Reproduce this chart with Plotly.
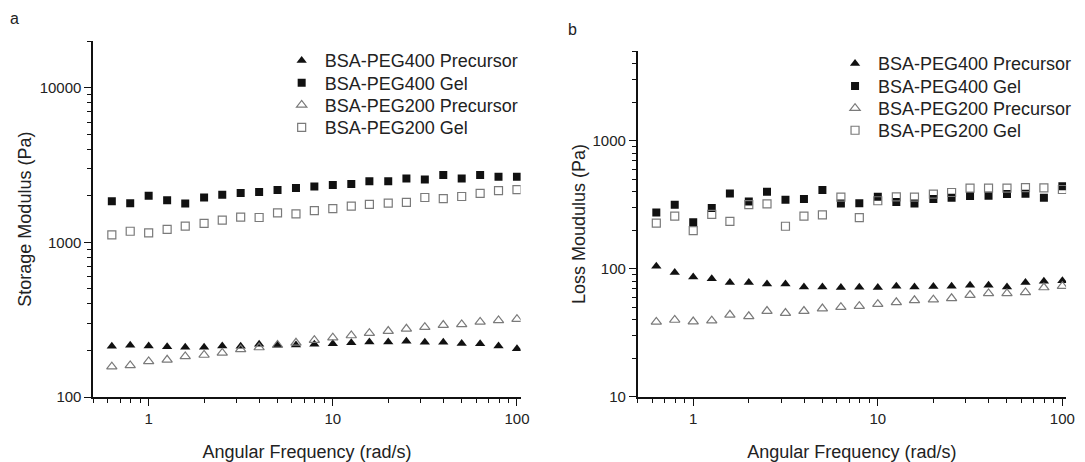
import numpy as np
import plotly.graph_objects as go

# Angular frequency sweep (rad/s), 5 points per decade
freq = [0.631, 0.794, 1.0, 1.26, 1.58, 2.0, 2.51, 3.16, 3.98, 5.01, 6.31, 7.94,
        10.0, 12.6, 15.8, 20.0, 25.1, 31.6, 39.8, 50.1, 63.1, 79.4, 100.0]

# Storage modulus G' (Pa)
g1_peg400_pre = [213, 216, 214, 211, 210, 210, 214, 213, 219, 216, 217, 219,
                 221, 224, 227, 227, 229, 226, 226, 222, 221, 214, 205]
g1_peg400_gel = [1848, 1795, 2000, 1875, 1787, 1950, 2037, 2090, 2120, 2183, 2250, 2303,
                 2350, 2383, 2489, 2490, 2588, 2551, 2731, 2588, 2731, 2654, 2654]
g1_peg200_pre = [157, 160, 170, 174, 183, 187, 193, 203, 209, 217, 224, 233,
                 242, 250, 259, 267, 276, 283, 292, 295, 306, 313, 319]
g1_peg200_gel = [1119, 1181, 1152, 1215, 1276, 1327, 1393, 1456, 1449, 1551, 1529, 1605,
                 1653, 1719, 1762, 1796, 1813, 1952, 1922, 1981, 2078, 2161, 2193]

# Loss modulus G'' (Pa)
g2_peg400_pre = [104.8, 93.7, 86.3, 83.8, 78.1, 78.1, 76.3, 76.3, 72.3, 72.3, 71.5, 71.9,
                 71.5, 73.2, 72.3, 72.8, 73.2, 74.5, 74.5, 72.3, 78.1, 80.0, 80.9]
g2_peg400_gel = [275, 317, 231, 299, 388, 336, 399, 346, 351, 413, 323, 325,
                 365, 332, 323, 351, 359, 370, 372, 383, 385, 359, 441]
g2_peg200_pre = [38.5, 39.9, 38.8, 39.4, 43.8, 42.6, 46.8, 45.2, 46.8, 49.0, 50.2, 51.1,
                 53.0, 54.8, 56.8, 57.5, 58.9, 62.4, 64.3, 64.3, 65.5, 71.5, 73.2]
g2_peg200_gel = [227, 258, 199, 266, 235, 317, 321, 215, 258, 264, 363, 251,
                 340, 365, 363, 383, 394, 426, 426, 426, 431, 428, 416]

series_names = ["BSA-PEG400 Precursor", "BSA-PEG400 Gel",
                "BSA-PEG200 Precursor", "BSA-PEG200 Gel"]

FONT = "Arial, Liberation Sans, sans-serif"
TXT = "#222222"
GREY = "#7a7a7a"

styles = [
    dict(symbol="triangle-up", size=9, color="#111111", line=dict(width=0)),
    dict(symbol="square", size=8, color="#111111", line=dict(width=0)),
    dict(symbol="triangle-up-open", size=9, color=GREY, line=dict(width=1.2, color=GREY)),
    dict(symbol="square-open", size=8, color=GREY, line=dict(width=1.2, color=GREY)),
]

W, H = 1085, 462


def px_x(p):
    return p / W


def px_y(p):
    return 1 - p / H


fig = go.Figure()

panel_a = [g1_peg400_pre, g1_peg400_gel, g1_peg200_pre, g1_peg200_gel]
panel_b = [g2_peg400_pre, g2_peg400_gel, g2_peg200_pre, g2_peg200_gel]

# one single-entry legend per series so each key row sits at its own height
legend_layout = {}
rows_a = [61, 83.7, 106.3, 129]
rows_b = [64, 87, 109.5, 132]
k = 0
for panel, xa, ya, rows, key_x in [(panel_a, "x", "y", rows_a, 281), (panel_b, "x2", "y2", rows_b, 839)]:
    for name, vals, st, row in zip(series_names, panel, styles, rows):
        k += 1
        lname = "legend" if k == 1 else f"legend{k}"
        fig.add_trace(go.Scatter(x=freq, y=vals, mode="markers", name=name,
                                 marker=st, xaxis=xa, yaxis=ya, legend=lname))
        legend_layout[lname] = dict(
            x=px_x(key_x), y=px_y(row - 18), xanchor="left", yanchor="top",
            bgcolor="rgba(0,0,0,0)", borderwidth=0, itemwidth=36,
            font=dict(family=FONT, size=18, color=TXT))

# log axes: major ticks at every decade, minor ticks at every digit in between
axis_common = dict(
    type="log", showline=True, linecolor="#111111", linewidth=1.6,
    tickmode="linear", tick0=0, dtick=1, exponentformat="none", tickformat="d",
    ticks="outside", ticklen=7, tickwidth=1.3, tickcolor="#111111",
    showgrid=False, zeroline=False, mirror=False,
    tickfont=dict(family=FONT, size=15, color=TXT),
    title_font=dict(family=FONT, size=18, color=TXT),
    minor=dict(dtick="D1", ticks="outside", ticklen=4, tickwidth=1.1,
               tickcolor="#111111", showgrid=False),
)

xrange_ = [np.log10(0.5), 2.02]

fig.update_layout(
    width=W, height=H,
    margin=dict(l=0, r=0, t=0, b=0),
    paper_bgcolor="white", plot_bgcolor="white",
    font=dict(family=FONT, color=TXT),
    xaxis=dict(axis_common, domain=[px_x(94), px_x(525)], range=xrange_, anchor="y",
               title=dict(text="Angular Frequency (rad/s)", standoff=21)),
    yaxis=dict(axis_common, domain=[px_y(404), px_y(42)], range=[2, np.log10(20000)], anchor="x",
               title=dict(text="Storage Modulus (Pa)", standoff=3)),
    xaxis2=dict(axis_common, domain=[px_x(643), px_x(1075)], range=xrange_, anchor="y2",
                title=dict(text="Angular Frequency (rad/s)", standoff=21)),
    yaxis2=dict(axis_common, domain=[px_y(404), px_y(52)], range=[1, np.log10(5000)], anchor="x2",
                title=dict(text="Loss Moudulus (Pa)", standoff=2)),
    showlegend=True,
    annotations=[
        dict(text="a", x=px_x(15), y=px_y(19), xref="paper", yref="paper",
             xanchor="center", yanchor="middle",
             showarrow=False, font=dict(family=FONT, size=16, color=TXT)),
        dict(text="b", x=px_x(577), y=px_y(30), xref="paper", yref="paper",
             xanchor="center", yanchor="middle",
             showarrow=False, font=dict(family=FONT, size=16, color=TXT)),
    ],
)
fig.update_layout(**legend_layout)

fig.write_html("out.html")
